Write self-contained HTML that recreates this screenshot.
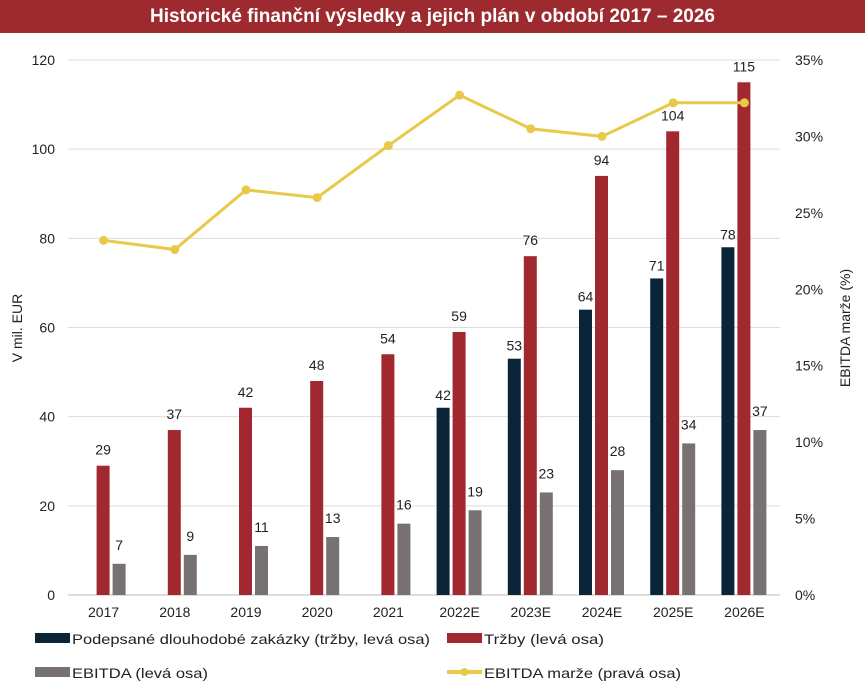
<!DOCTYPE html>
<html><head><meta charset="utf-8"><style>
body{margin:0;background:#fff;font-family:"Liberation Sans",sans-serif}
#title{position:absolute;left:0;top:0;width:865px;height:33px;background:#9d2a2e;color:#fff;font-weight:bold;font-size:19px;line-height:33px;text-align:center}
svg{position:absolute;left:0;top:0}
text{font-family:"Liberation Sans",sans-serif;font-size:14px;fill:#222}
</style></head><body>
<div id="title">Historické finanční výsledky a jejich plán v období 2017 – 2026</div>
<svg id="c" width="865" height="689"></svg>
<script>
const categories=["2017","2018","2019","2020","2021","2022E","2023E","2024E","2025E","2026E"];
const contracts=[null,null,null,null,null,42,53,64,71,78];
const revenue=[29,37,42,48,54,59,76,94,104,115];
const ebitda=[7,9,11,13,16,19,23,28,34,37];
const revenueLabels=[29,37,42,48,54,59,76,94,104,115];
const margin=[23.2,22.6,26.5,26.0,29.4,32.7,30.5,30.0,32.2,32.2];
const leftTicks=[0,20,40,60,80,100,120];
const rightTicks=[0,5,10,15,20,25,30,35];
const NS="http://www.w3.org/2000/svg";
const svg=document.getElementById('c');
const x0=68,x1=780,yb=595,yt=60;
const step=(x1-x0)/categories.length;
const xc=i=>x0+step*(i+0.5);
const yL=v=>yb-(v/120)*(yb-yt);
const yR=v=>yb-(v/35)*(yb-yt);
function el(t,a,txt){const e=document.createElementNS(NS,t);for(const k in a)e.setAttribute(k,a[k]);if(txt!=null)e.textContent=txt;svg.appendChild(e);return e;}
leftTicks.forEach(v=>{
 const g=el('line',{x1:x0,x2:x1,y1:yL(v),y2:yL(v),stroke:v===0?'#bbb':'#ddd','stroke-width':1});
 
 
 const t=el('text',{x:55,y:yL(v)+5,'text-anchor':'end'},v);
 
 
});
rightTicks.forEach(v=>{
 const t=el('text',{x:795,y:yR(v)+5},v+'%');
 
 
});
const yt1=el('text',{transform:'translate(22,328) rotate(-90)','text-anchor':'middle'},'V mil. EUR');


const yt2=el('text',{transform:'translate(850,328) rotate(-90)','text-anchor':'middle'},'EBITDA marže (%)');


const bw=13;
categories.forEach((c,i)=>{
 const cx=xc(i);
 const t=el('text',{x:cx,y:617,'text-anchor':'middle'},c);
 
 
 if(contracts[i]!=null){
  const r=el('rect',{x:cx-23,y:yL(contracts[i]),width:bw,height:yb-yL(contracts[i]),fill:'#0b2538'});
  
  
  const l=el('text',{x:cx-16.5,y:yL(contracts[i])-8,'text-anchor':'middle'},contracts[i]);
  
  
 }
 const r2=el('rect',{x:cx-7,y:yL(revenue[i]),width:bw,height:yb-yL(revenue[i]),fill:'#a1282f'});
 
 
 const l2=el('text',{x:cx-0.5,y:yL(revenue[i])-11,'text-anchor':'middle'},revenueLabels[i]);
 
 
 const r3=el('rect',{x:cx+9,y:yL(ebitda[i]),width:bw,height:yb-yL(ebitda[i]),fill:'#777172'});
 
 
 const l3=el('text',{x:cx+15.5,y:yL(ebitda[i])-14,'text-anchor':'middle'},ebitda[i]);
 
 
});
const pl=el('polyline',{points:margin.map((v,i)=>xc(i)+','+yR(v)).join(' '),fill:'none',stroke:'#e8c94a','stroke-width':3});


margin.forEach((v,i)=>{
 const p=el('circle',{cx:xc(i),cy:yR(v),r:4.5,fill:'#e8c94a'});
 
 
});
function leg(x,y,kind,color,label,name,w){
 if(kind==='rect'){const s=el('rect',{x:x,y:y-6,width:35,height:10,fill:color});}
 else{const s=el('line',{x1:x,x2:x+35,y1:y-1,y2:y-1,stroke:color,'stroke-width':4});
  const c=el('circle',{cx:x+17.5,cy:y-1,r:4,fill:color});}
 const t=el('text',{x:x+37,y:y+5,textLength:w,lengthAdjust:'spacingAndGlyphs','font-size':'15'},label);
 
 
}
leg(35,639,'rect','#0b2538','Podepsané dlouhodobé zakázky (tržby, levá osa)','legend-contracts',358);
leg(447,639,'rect','#a1282f','Tržby (levá osa)','legend-revenue',120);
leg(35,673,'rect','#777172','EBITDA (levá osa)','legend-ebitda',136);
leg(447,673,'line','#e8c94a','EBITDA marže (pravá osa)','legend-margin',197);
</script>
</body></html>
